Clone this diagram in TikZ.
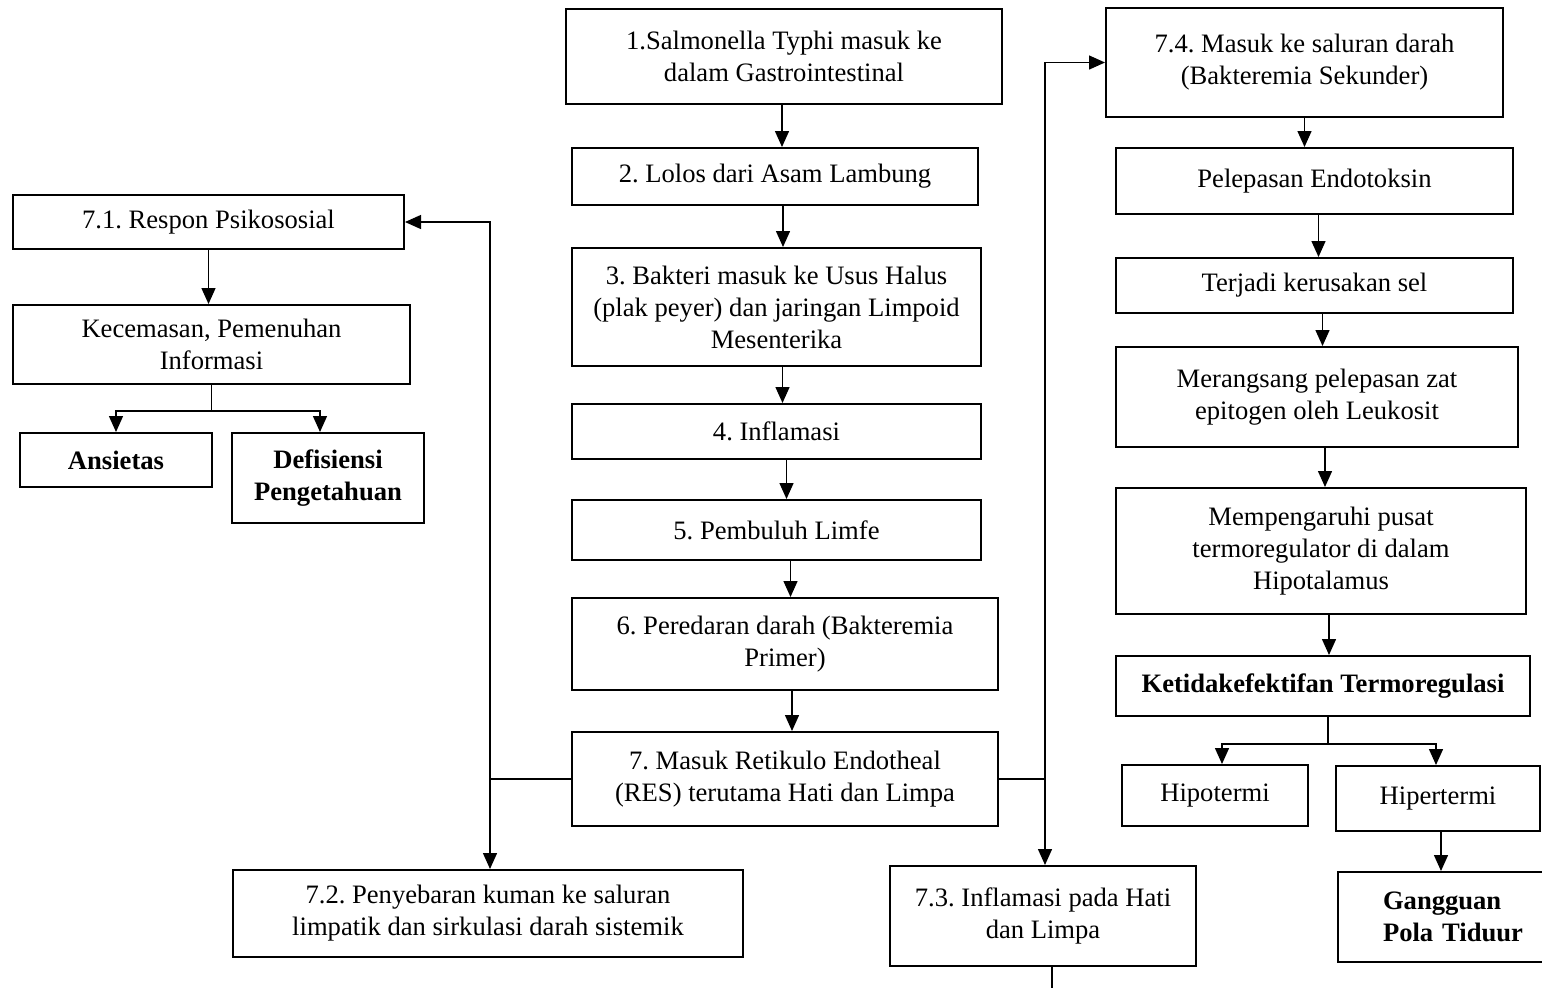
\documentclass[tikz,border=0pt]{standalone}
\usepackage{fontspec}
\setmainfont{Liberation Serif}
\usetikzlibrary{arrows.meta}
\frenchspacing

\tikzset{
  kotak/.style={draw, line width=1pt, align=center, inner sep=0pt,
    font=\fontsize{13.3}{16}\selectfont},
  ukuran/.style 2 args={minimum width=#1*0.5pt, minimum height=#2*0.5pt},
  tebal/.style={font=\fontsize{13.3}{16}\selectfont\bfseries},
  garis/.style={line width=0.7pt},
  panah/.style={garis, -{Triangle[length=8pt,width=7pt]}}
}

\begin{document}
\begin{tikzpicture}[x=0.5pt, y=-0.5pt]
			%%%%% BATAS %%%%%
			\useasboundingbox (0,0) rectangle (1542,987);
			
			%%%%% KOLOM TENGAH %%%%%
			\node[kotak, ukuran={436}{95}]  (b1) at (784,56.5) {1.Salmonella Typhi masuk ke\\dalam Gastrointestinal};
			\node[kotak, ukuran={406}{57}]  (b2) at (775,176.5) {2. Lolos dari Asam Lambung};
			\node[kotak, ukuran={409}{118}] (b3) at (776.5,307) {3. Bakteri masuk ke Usus Halus\\(plak peyer) dan jaringan Limpoid\\Mesenterika};
			\node[kotak, ukuran={409}{55}]  (b4) at (776.5,431.5) {4. Inflamasi};
			\node[kotak, ukuran={409}{60}]  (b5) at (776.5,530) {5. Pembuluh Limfe};
			\node[kotak, ukuran={426}{92}]  (b6) at (785,644) {6. Peredaran darah (Bakteremia\\Primer)};
			\node[kotak, ukuran={426}{94}]  (b7) at (785,779) {7. Masuk Retikulo Endotheal\\(RES) terutama Hati dan Limpa};
			
			\draw[panah] ([xshift=-1pt]b1.south) -- ([xshift=-1pt]b1.south |- b2.north);
			\draw[panah] ([xshift=4pt]b2.south) -- ([xshift=4pt]b2.south |- b3.north);
			\draw[panah] ([xshift=3pt]b3.south) -- ([xshift=3pt]b3.south |- b4.north);
			\draw[panah] ([xshift=5pt]b4.south) -- ([xshift=5pt]b4.south |- b5.north);
			\draw[panah] ([xshift=7pt]b5.south) -- ([xshift=7pt]b5.south |- b6.north);
			\draw[panah] ([xshift=3.5pt]b6.south) -- ([xshift=3.5pt]b6.south |- b7.north);
			
			%%%%% KIRI %%%%%
			\node[kotak, ukuran={391}{54}] (r1) at (208.5,222) {7.1. Respon Psikososial};
			\node[kotak, ukuran={397}{79}] (r2) at (211.5,344.5) {Kecemasan, Pemenuhan\\Informasi};
			\node[kotak, tebal, ukuran={192}{54}] (ans) at (116,460) {Ansietas};
			\node[kotak, tebal, ukuran={192}{90}] (def) at (328,478) {Defisiensi\\Pengetahuan};
			\node[kotak, ukuran={510}{87}] (p72) at (488,913.5) {7.2. Penyebaran kuman ke saluran\\limpatik dan sirkulasi darah sistemik};
			
			\draw[panah] (r1.south) -- (r1.south |- r2.north);
			\draw[garis] (r2.south) -- ++(0,26) coordinate (ca);
			\draw[panah] (ca) -| (ans.north);
			\draw[panah] (ca) -| ([xshift=-4pt]def.north);
			
			\draw[garis] (b7.west) -- ++(-81,0) coordinate (kiri);
			\draw[panah] (kiri) |- (r1.east);
			\draw[panah] (kiri) -- (kiri |- p72.north);
			
			%%%%% KANAN %%%%%
			\node[kotak, ukuran={397}{109}] (c1) at (1304.5,62.5) {7.4. Masuk ke saluran darah\\(Bakteremia Sekunder)};
			\node[kotak, ukuran={397}{66}]  (c2) at (1314.5,181) {Pelepasan Endotoksin};
			\node[kotak, ukuran={397}{55}]  (c3) at (1314.5,285.5) {Terjadi kerusakan sel};
			\node[kotak, ukuran={402}{100}] (c4) at (1317,397) {Merangsang pelepasan zat\\epitogen oleh Leukosit};
			\node[kotak, ukuran={410}{126}] (c5) at (1321,551) {Mempengaruhi pusat\\termoregulator di dalam\\Hipotalamus};
			\node[kotak, tebal, ukuran={414}{60}] (c6) at (1323,686) {Ketidakefektifan Termoregulasi};
			\node[kotak, ukuran={186}{61}] (hpo) at (1215,795.5) {Hipotermi};
			\node[kotak, ukuran={204}{65}] (hpe) at (1438,798.5) {Hipertermi};
			\node[kotak, tebal, align=left, text width=80pt, inner xsep=22.5pt, minimum height=45pt] (gpt) at (1463,917) {Gangguan\\Pola Tiduur};
			\node[kotak, ukuran={306}{100}] (p73) at (1043,916) {7.3. Inflamasi pada Hati\\dan Limpa};
			
			\draw[panah] (c1.south) -- (c1.south |- c2.north);
			\draw[panah] ([xshift=2pt]c2.south) -- ([xshift=2pt]c2.south |- c3.north);
			\draw[panah] ([xshift=4pt]c3.south) -- ([xshift=4pt]c3.south |- c4.north);
			\draw[panah] ([xshift=4pt]c4.south) -- ([xshift=4pt]c4.south |- c5.north);
			\draw[panah] ([xshift=4pt]c5.south) -- ([xshift=4pt]c5.south |- c6.north);
			\draw[garis] ([xshift=2.5pt]c6.south) -- ++(0,27) coordinate (cb);
			\draw[panah] (cb) -| ([xshift=3.5pt]hpo.north);
			\draw[panah] (cb) -| ([xshift=-1pt]hpe.north);
			\draw[panah] ([xshift=1.5pt]hpe.south) -- ([xshift=1.5pt]hpe.south |- gpt.north);
			
			\draw[garis] (b7.east) -- ++(46,0) coordinate (kanan);
			\draw[panah] (kanan) |- (c1.west);
			\draw[panah] (kanan) -- (kanan |- p73.north);
			\draw[garis] ([xshift=4.5pt]p73.south) -- ++(0,25);
			%%%%% SELESAI %%%%%
		\end{tikzpicture}
\end{document}
